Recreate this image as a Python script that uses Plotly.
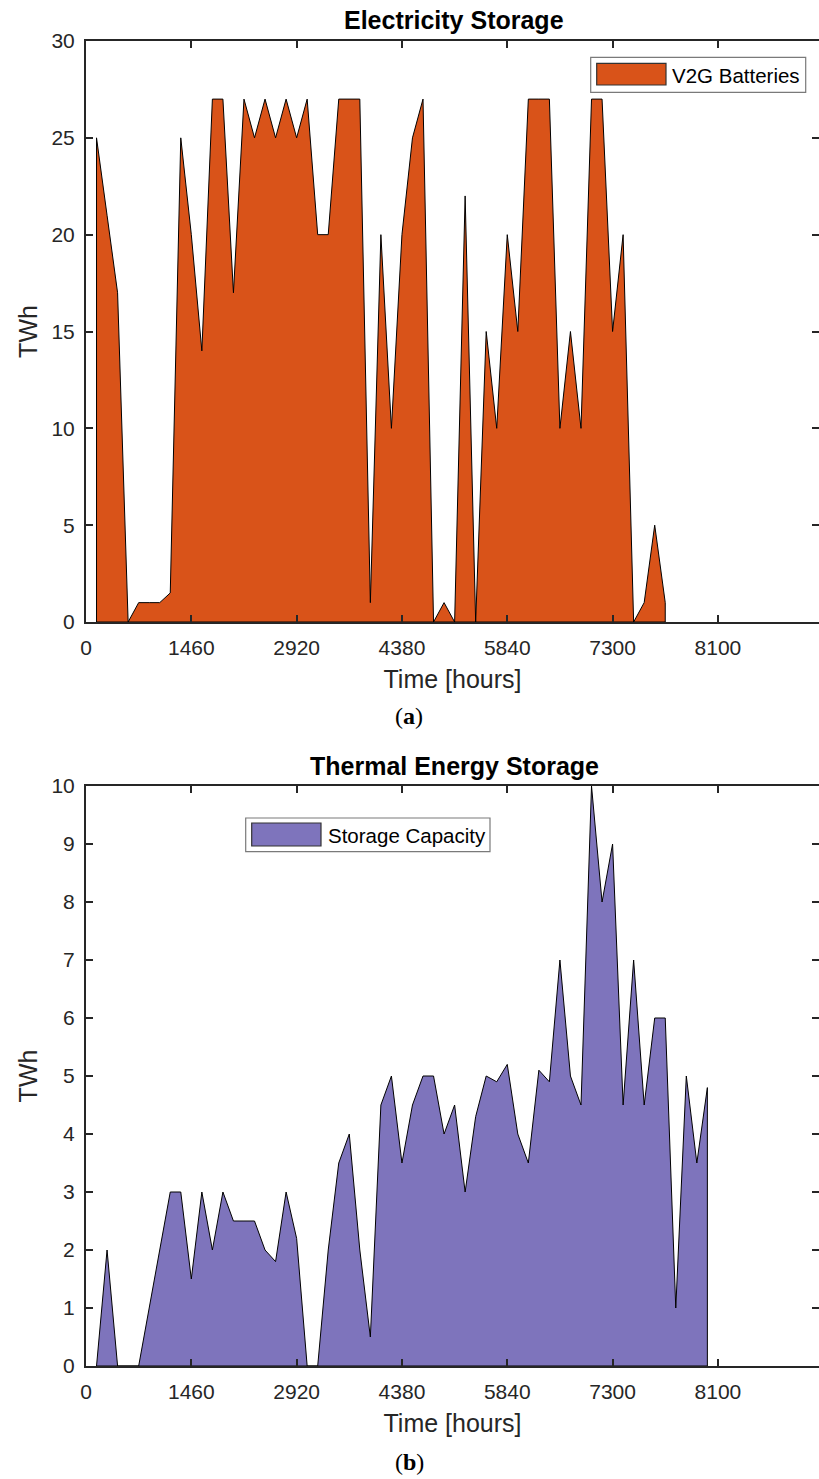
import plotly.graph_objects as go

# ---------------- data ----------------
tick_labels = ["0", "1460", "2920", "4380", "5840", "7300", "8100"]
tick_positions = [0, 10, 20, 30, 40, 50, 60]

# sample index along the time axis (10 samples per labelled tick)
v2g_step = list(range(1, 56))
v2g_twh = [25, 21, 17, 0, 1, 1, 1, 1.5, 25, 20,
           14, 27, 27, 17, 27, 25, 27, 25, 27, 25,
           27, 20, 20, 27, 27, 27, 1, 20, 10, 20,
           25, 27, 0, 1, 0, 22, 0, 15, 10, 20,
           15, 27, 27, 27, 10, 15, 10, 27, 27, 15,
           20, 0, 1, 5, 1]

tes_step = list(range(1, 60))
tes_twh = [0, 2, 0, 0, 0, 1, 2, 3, 3, 1.5,
           3, 2, 3, 2.5, 2.5, 2.5, 2, 1.8, 3, 2.2,
           0, 0, 2, 3.5, 4, 2, 0.5, 4.5, 5, 3.5,
           4.5, 5, 5, 4, 4.5, 3, 4.3, 5, 4.9, 5.2,
           4, 3.5, 5.1, 4.9, 7, 5, 4.5, 10, 8, 9,
           4.5, 7, 4.5, 6, 6, 1, 5, 3.5, 4.8]

# ---------------- layout helpers ----------------
W, H = 819, 1479
L, R, T, B = 86, 0, 41, 113
PW, PH = W - L - R, H - T - B


def px(x):
    return (x - L) / PW


def py(y):
    return (H - B - y) / PH


ORANGE = "#D95319"
PURPLE = "#7E74BC"
AX = "#262626"
FONT = "Liberation Sans, Arial, Helvetica, sans-serif"


def closed(xs, ys):
    return [xs[0]] + xs + [xs[-1], xs[0]], [0] + ys + [0, 0]


fig = go.Figure()
xa, ya = closed(v2g_step, v2g_twh)
fig.add_trace(go.Scatter(x=xa, y=ya, fill="toself", fillcolor=ORANGE,
                         mode="lines", line=dict(color="black", width=1),
                         name="V2G Batteries", xaxis="x", yaxis="y",
                         showlegend=False))
xb, yb = closed(tes_step, tes_twh)
fig.add_trace(go.Scatter(x=xb, y=yb, fill="toself", fillcolor=PURPLE,
                         mode="lines", line=dict(color="black", width=1),
                         name="Storage Capacity", xaxis="x2", yaxis="y2",
                         showlegend=False))

top_b = py(786)
bot_a = py(622)

xcommon = dict(range=[0, 69.6], tickvals=tick_positions, ticktext=tick_labels,
               ticks="inside", ticklen=7, tickwidth=1.5, tickcolor=AX,
               showline=True, linecolor=AX, linewidth=2, mirror="ticks",
               showgrid=False, zeroline=False, ticklabelstandoff=6,
               tickfont=dict(family=FONT, size=21, color=AX),
               title=dict(text="Time [hours]", font=dict(family=FONT, size=25, color=AX), standoff=12))
ycommon = dict(ticks="inside", ticklen=7, tickwidth=1.5, tickcolor=AX,
               showline=True, linecolor=AX, linewidth=2, mirror=False,
               showgrid=False, zeroline=False, ticklabelstandoff=5,
               tickfont=dict(family=FONT, size=21, color=AX),
               title=dict(text="TWh", font=dict(family=FONT, size=25, color=AX), standoff=7))
yright = dict(ticks="inside", ticklen=7, tickwidth=1.5, tickcolor=AX,
              showline=False, showticklabels=False, showgrid=False,
              zeroline=False, side="right")

fig.update_layout(
    width=W, height=H, margin=dict(l=L, r=R, t=T, b=B),
    paper_bgcolor="white", plot_bgcolor="white", showlegend=False,
    xaxis=dict(domain=[0, 1], anchor="y", **xcommon),
    yaxis=dict(domain=[bot_a, 1], anchor="x", range=[0, 30], tickvals=[0, 5, 10, 15, 20, 25, 30], **ycommon),
    yaxis3=dict(domain=[bot_a, 1], anchor="x", overlaying="y", range=[0, 30], tickvals=[0, 5, 10, 15, 20, 25, 30], **yright),
    xaxis2=dict(domain=[0, 1], anchor="y2", **xcommon),
    yaxis2=dict(domain=[0, top_b], anchor="x2", range=[0, 10], tickvals=list(range(0, 11)), **ycommon),
    yaxis4=dict(domain=[0, top_b], anchor="x2", overlaying="y2", range=[0, 10], tickvals=list(range(0, 11)), **yright),
)
# invisible traces so the right-side tick axes are drawn
fig.add_trace(go.Scatter(x=[None], y=[None], xaxis="x", yaxis="y3", showlegend=False, hoverinfo="skip"))
fig.add_trace(go.Scatter(x=[None], y=[None], xaxis="x2", yaxis="y4", showlegend=False, hoverinfo="skip"))

# titles and panel labels
ann = [
    dict(text="<b>Electricity Storage</b>", x=px(454), y=py(20), font=dict(size=25, color="black", family=FONT)),
    dict(text="<b>Thermal Energy Storage</b>", x=px(454), y=py(766), font=dict(size=25, color="black", family=FONT)),
    dict(text="(<b>a</b>)", x=px(409), y=py(716), font=dict(size=24, color="black", family="Liberation Serif, serif")),
    dict(text="(<b>b</b>)", x=px(409), y=py(1462), font=dict(size=24, color="black", family="Liberation Serif, serif")),
    dict(text="V2G Batteries", x=px(670), y=py(75), xanchor="left", font=dict(size=20.5, color="black", family=FONT)),
    dict(text="Storage Capacity", x=px(326), y=py(835), xanchor="left", font=dict(size=20.5, color="black", family=FONT)),
]
for a in ann:
    a.setdefault("xanchor", "center")
    fig.add_annotation(xref="paper", yref="paper", yanchor="middle", showarrow=False, **a)

# manual legends
shapes = [
    dict(x0=px(590.7), x1=px(805.7), y0=py(57.3), y1=py(92.3), fillcolor="white", line=dict(color="#7a7a7a", width=1.2)),
    dict(x0=px(596.7), x1=px(666), y0=py(63.3), y1=py(85), fillcolor=ORANGE, line=dict(color="#333333", width=1.2)),
    dict(x0=px(245.7), x1=px(490), y0=py(818), y1=py(851.7), fillcolor="white", line=dict(color="#7a7a7a", width=1.2)),
    dict(x0=px(251.7), x1=px(321), y0=py(823), y1=py(846), fillcolor=PURPLE, line=dict(color="#333333", width=1.2)),
]
for s in shapes:
    fig.add_shape(type="rect", xref="paper", yref="paper", layer="above", **s)

fig.write_html("out.html")
